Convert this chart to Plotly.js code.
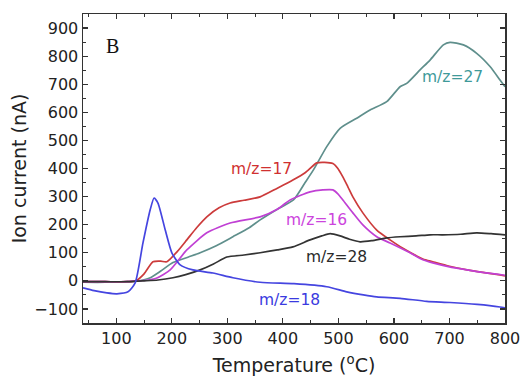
<!DOCTYPE html>
<html>
<head>
<meta charset="utf-8">
<script src="https://cdn.plot.ly/plotly-3.0.1.min.js"></script>
<style>html,body{margin:0;padding:0;background:#fff;}#chart{width:523px;height:383px;}</style>
</head>
<body>
<div id="chart"></div>
<script>
// m/z = 27
const x27 = [40,80,120,140,160,180,202,230,251,280,310,340,359,390,419,440,455,479,503,533,557,587,611,623,647,665,689,701,725,749,773,791,800];
const y27 = [-5,-5,-3,0,10,35,65,85,100,125,157,190,217,255,288,350,395,478,543,579,608,638,691,703,751,786,840,849,840,810,763,715,691];
// m/z = 17
const x17 = [40,80,120,135,150,166,180,191,210,227,245,263,285,305,330,359,390,418,440,461,475,490,499,508,517,526,544,569,593,617,652,670,700,732,760,791,800];
const y17 = [-3,-3,-3,0,25,68,70,68,105,146,190,228,260,277,287,299,330,359,385,420,422,418,400,370,335,299,242,181,146,115,78,68,52,39,30,21,18];
// m/z = 16
const x16 = [40,80,120,140,157,173,197,227,263,305,359,390,413,449,472,490,499,508,526,544,569,593,629,652,670,700,732,760,800];
const y16 = [-3,-3,-3,0,3,10,39,110,171,206,228,255,288,317,324,324,310,288,242,199,157,135,100,75,64,50,39,30,20];
// m/z = 28
const x28 = [40,80,120,150,175,202,225,251,275,299,330,359,390,418,449,470,485,503,520,539,560,587,611,640,665,688,720,749,775,800];
const y28 = [-3,-3,-3,0,3,11,22,39,60,85,92,100,110,121,146,160,168,160,148,139,143,153,157,160,164,164,166,171,168,164];
// m/z = 18
const x18 = [40,60,83,101,121,134,148,161,168,175,188,200,215,238,274,310,359,420,479,515,545,569,611,659,701,750,791,800];
const y18 = [-25,-35,-43,-46,-39,-7,135,253,295,277,182,100,57,39,28,11,-5,-10,-21,-39,-50,-57,-62,-73,-77,-84,-93,-96];

const labels = ["m/z=27","m/z=17","m/z=16","m/z=28","m/z=18"];
const labelX = [705,361,460,496,411];
const labelY = [726,399,217,85,-68];
const panelLabel = "B";
const xTitle = "Temperature (<sup>o</sup>C)";
const yTitle = "Ion current (nA)";

const lineColors = ["#5f8f8c","#cc3b3b","#c040d4","#333333","#4545e0"];
const textColors = ["#3f9a9a","#d03030","#cc44dd","#2a2a2a","#3a3ae0"];
const xs = [x27,x17,x16,x28,x18];
const ys = [y27,y17,y16,y28,y18];

const traces = xs.map((xv,i)=>({
  x: xv, y: ys[i], type:'scatter', mode:'lines',
  line:{color:lineColors[i], width:1.7, shape:'spline', smoothing:0.6},
  showlegend:false, hoverinfo:'skip'
}));

const annotations = labels.map((t,i)=>({
  x: labelX[i], y: labelY[i], xref:'x', yref:'y', text:t, showarrow:false,
  font:{family:'DejaVu Sans', size:15.5, color:textColors[i]}, xanchor:'center', yanchor:'middle'
}));
annotations.push({x:94, y:836, xref:'x', yref:'y', text:panelLabel, showarrow:false,
  font:{family:'Liberation Serif', size:20, color:'#111'}, xanchor:'center', yanchor:'middle'});

const axisCommon = {
  showgrid:false, zeroline:false, showline:true, linecolor:'#333', linewidth:1.5,
  mirror:'ticks', ticks:'inside', ticklen:5, tickwidth:1.2, tickcolor:'#333',
  tickfont:{family:'DejaVu Sans', size:16, color:'#222'},
  minor:{ticks:'inside', ticklen:3, tickcolor:'#333', tickwidth:1, dtick:50}
};

const layout = {
  width:523, height:383,
  margin:{l:83, r:18, t:14, b:60},
  paper_bgcolor:'#fff', plot_bgcolor:'#fff',
  xaxis:Object.assign({}, axisCommon, {range:[40,800], dtick:100, tick0:0,
    title:{text:xTitle, font:{family:'DejaVu Sans', size:19, color:'#222'}, standoff:12}}),
  yaxis:Object.assign({}, axisCommon, {range:[-150,950], dtick:100, tick0:0,
    title:{text:yTitle, font:{family:'DejaVu Sans', size:19, color:'#222'}, standoff:2}}),
  annotations:annotations
};

Plotly.newPlot('chart', traces, layout, {staticPlot:true, displayModeBar:false});
</script>
</body>
</html>
